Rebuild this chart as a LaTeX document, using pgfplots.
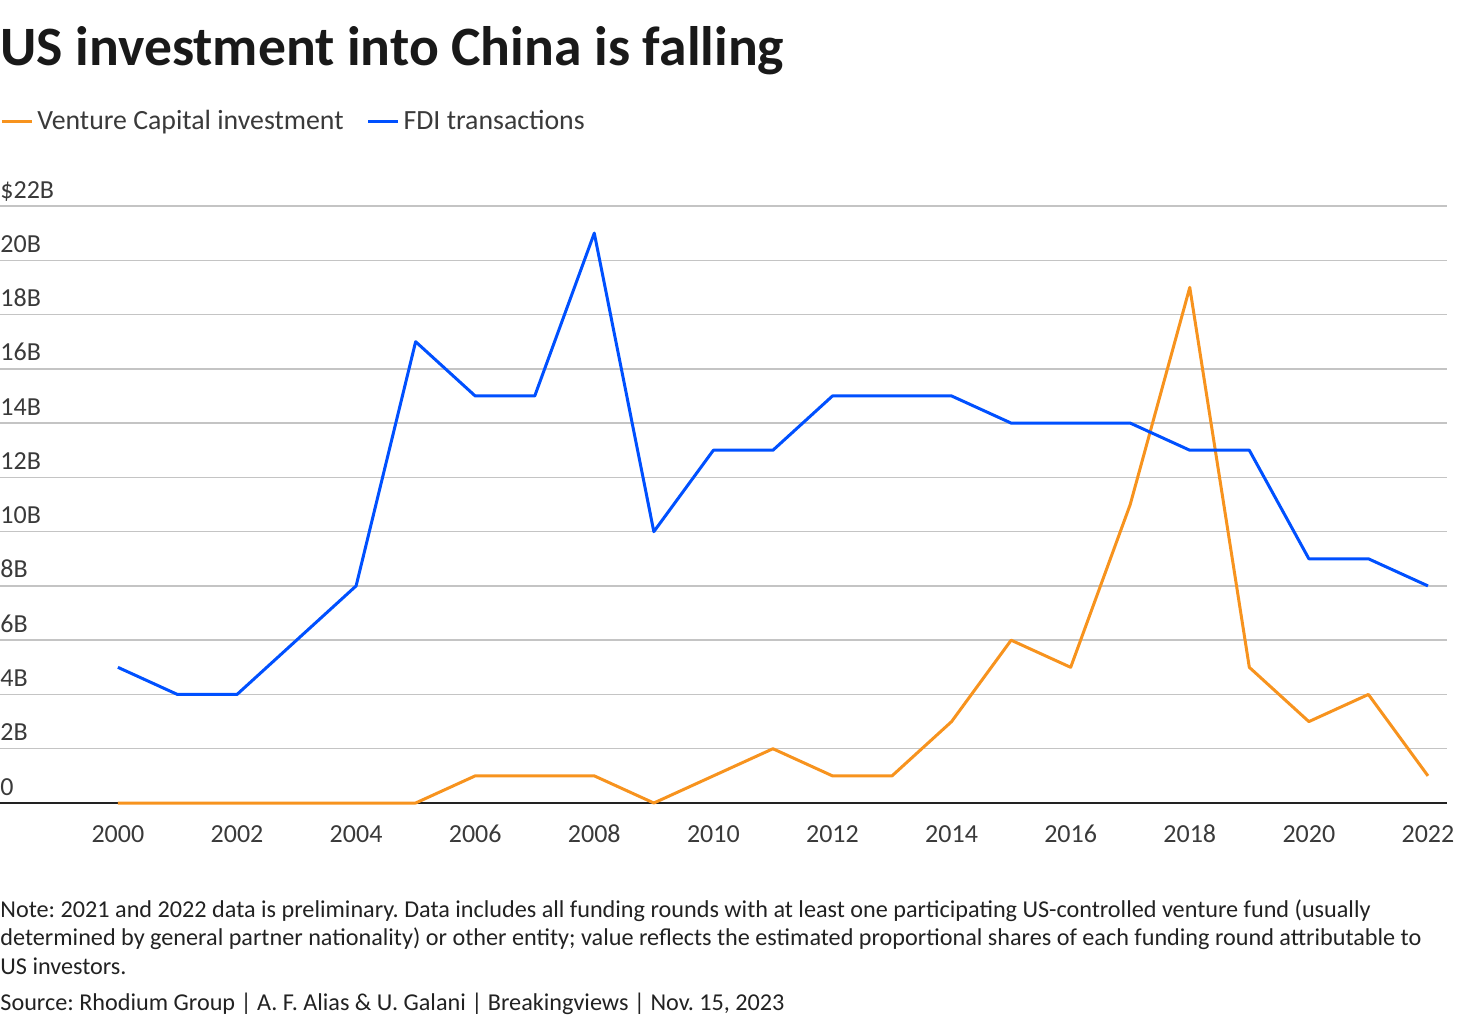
\documentclass[border=0pt]{standalone}
\usepackage{fontspec}
\setmainfont{Carlito}
\usepackage{pgfplots}
\pgfplotsset{compat=1.18}
\frenchspacing

\definecolor{vcorange}{HTML}{F7931E}
\definecolor{fdiblue}{HTML}{0050FF}
\definecolor{gridgray}{HTML}{C4C4C4}
\definecolor{ticktxt}{HTML}{3A3A3A}
\definecolor{notetxt}{HTML}{222222}

\begin{document}
\begin{tikzpicture}
\useasboundingbox (0,0) rectangle (730pt,-511pt);

% title
\node[anchor=base west, inner sep=0pt, text=black!90,
      font=\fontsize{27.8}{32}\selectfont\bfseries] at (0pt,-33pt)
      {US investment into China is falling};

\begin{axis}[
    at={(0pt,-401.5pt)}, anchor=south west,
    scale only axis, width=723.5pt, height=298.5pt,
    xmin=1998.02, xmax=2022.32,
    ymin=0, ymax=22,
    xtick={2000,2002,...,2022},
    xticklabels={2000,2002,2004,2006,2008,2010,2012,2014,2016,2018,2020,2022},
    ytick={0,2,...,22},
    yticklabels={0,2B,4B,6B,8B,10B,12B,14B,16B,18B,20B,\$22B},
    ymajorgrids,
    grid style={gridgray, line width=0.75pt},
    axis line style={draw=none},
    major tick length=0pt,
    tick style={draw=none},
    ticklabel style={font=\fontsize{13}{15}\selectfont, text=ticktxt},
    yticklabel style={anchor=base west, inner sep=0pt, xshift=0pt, yshift=4pt},
    xticklabel style={anchor=base, inner sep=0pt, yshift=-19.5pt},
    clip=false,
    legend columns=2,
    legend style={draw=none, fill=none, at={(0,1)}, anchor=west, yshift=42.5pt,
        inner sep=0pt, font=\fontsize{13.9}{16}\selectfont, text=ticktxt,
        /tikz/every even column/.append style={column sep=9.5pt}},
    legend cell align=left,
    legend image code/.code={\draw[#1, line width=1.5pt] (0pt,0pt) -- (15pt,0pt);},
]
\draw[notetxt, line width=1pt] (rel axis cs:0,0) -- (rel axis cs:1,0);

\addplot[vcorange, line width=1.5pt, line join=round] coordinates {
(2000,0)(2001,0)(2002,0)(2003,0)(2004,0)(2005,0)(2006,1)(2007,1)
(2008,1)(2009,0)(2010,1)(2011,2)(2012,1)(2013,1)(2014,3)(2015,6)
(2016,5)(2017,11)(2018,19)(2019,5)(2020,3)(2021,4)(2022,1)
};
\addlegendentry{Venture Capital investment}

\addplot[fdiblue, line width=1.5pt, line join=round] coordinates {
(2000,5)(2001,4)(2002,4)(2003,6)(2004,8)(2005,17)(2006,15)(2007,15)
(2008,21)(2009,10)(2010,13)(2011,13)(2012,15)(2013,15)(2014,15)(2015,14)
(2016,14)(2017,14)(2018,13)(2019,13)(2020,9)(2021,9)(2022,8)
};
\addlegendentry{FDI transactions}
\end{axis}

% notes
\begin{scope}[every node/.style={anchor=base west, inner sep=0pt, text=notetxt,
      font=\fontsize{12.1}{14}\selectfont}]
\node at (0pt,-458.5pt) {Note: 2021 and 2022 data is preliminary. Data includes all funding rounds with at least one participating US-controlled venture fund (usually};
\node at (0pt,-472.75pt) {determined by general partner nationality) or other entity; value reflects the estimated proportional shares of each funding round attributable to};
\node at (0pt,-487pt) {US investors.};
\node at (0pt,-505pt) {Source: Rhodium Group | A. F. Alias \& U. Galani | Breakingviews | Nov. 15, 2023};
\end{scope}
\end{tikzpicture}
\end{document}
